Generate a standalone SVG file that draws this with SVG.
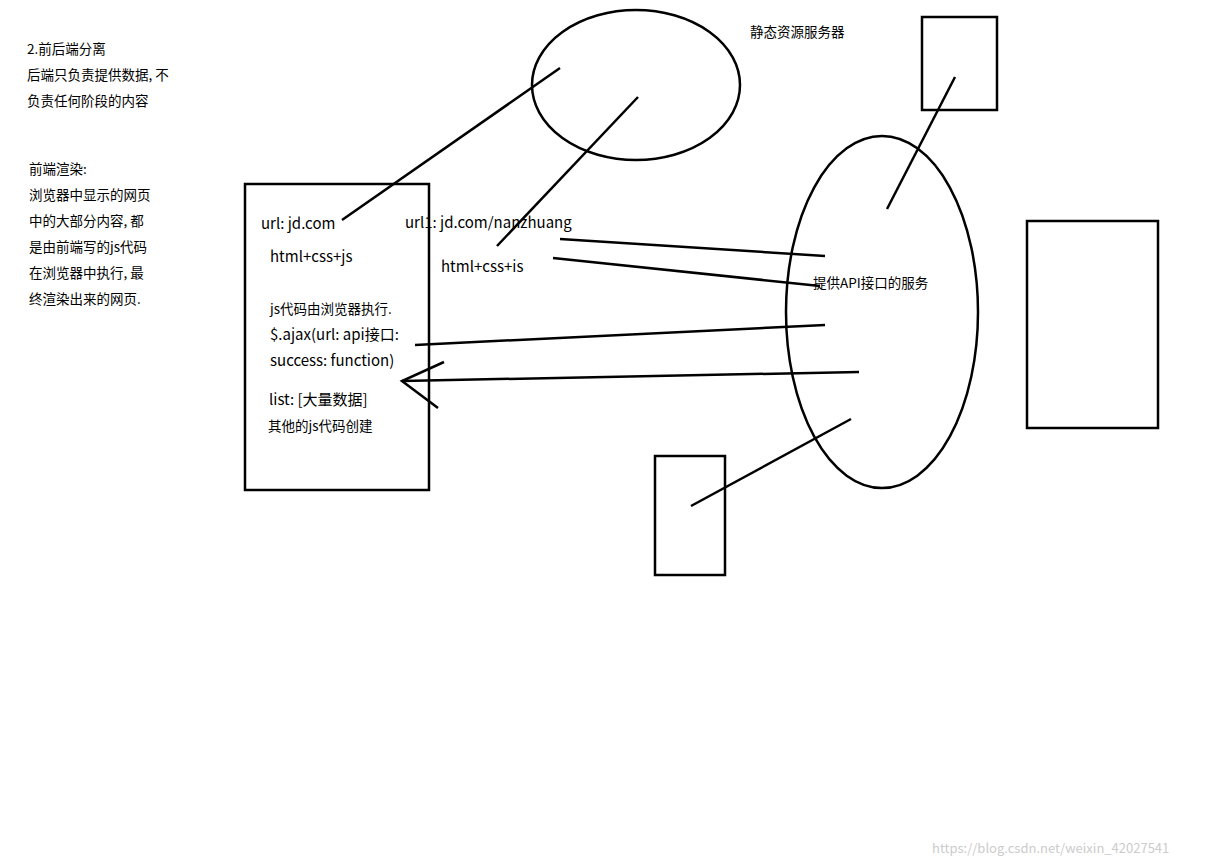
<svg xmlns="http://www.w3.org/2000/svg" width="1211" height="866" viewBox="0 0 1211 866">
<style>
.s{fill:none;stroke:#000;stroke-width:2.5}
text{font-family:"Noto Sans CJK SC","Liberation Sans",sans-serif;fill:#000}
.a{font-size:13.5px}
.b{font-size:15px}
</style>
<rect width="1211" height="866" fill="#fff"/>
<g id="notes">
<text class="a" x="27" y="54">2.前后端分离</text>
<text class="a" x="27" y="80">后端只负责提供数据, 不</text>
<text class="a" x="27" y="106">负责任何阶段的内容</text>
<text class="a" x="29" y="174">前端渲染:</text>
<text class="a" x="29" y="200">浏览器中显示的网页</text>
<text class="a" x="29" y="226">中的大部分内容, 都</text>
<text class="a" x="29" y="252">是由前端写的js代码</text>
<text class="a" x="29" y="278">在浏览器中执行, 最</text>
<text class="a" x="29" y="304">终渲染出来的网页.</text>
</g>
<g id="browser">
<rect class="s" x="245" y="184" width="184" height="306"/>
<text class="b" x="261" y="229">url: jd.com</text>
<text class="b" x="270" y="262">html+css+js</text>
<text class="a" x="270" y="314">js代码由浏览器执行.</text>
<text class="b" x="270" y="340">$.ajax(url: api接口:</text>
<text class="b" x="270" y="366">success: function)</text>
<text class="b" x="269" y="405">list: [大量数据]</text>
<text class="a" x="268" y="431">其他的js代码创建</text>
</g>
<g id="page2">
<text class="b" x="405" y="228">url1: jd.com/nanzhuang</text>
<text class="b" x="441" y="272">html+css+is</text>
</g>
<g id="static">
<ellipse class="s" cx="636" cy="85" rx="104" ry="75"/>
<text class="a" x="750" y="37">静态资源服务器</text>
</g>
<g id="api">
<ellipse class="s" cx="882" cy="312" rx="96" ry="176"/>
<text class="a" x="813" y="288">提供API接口的服务</text>
</g>
<g id="box-tr"><rect class="s" x="922" y="17" width="75" height="93"/></g>
<g id="box-r"><rect class="s" x="1027" y="221" width="131" height="207"/></g>
<g id="box-b"><rect class="s" x="655" y="456" width="70" height="119"/></g>
<g id="connectors" class="s">
<line class="s" x1="342" y1="220" x2="560" y2="68"/>
<line class="s" x1="497" y1="246" x2="638" y2="97"/>
<line class="s" x1="560" y1="239" x2="825" y2="256"/>
<line class="s" x1="553" y1="258" x2="820" y2="286"/>
<line class="s" x1="415" y1="345" x2="825" y2="325"/>
<line class="s" x1="402" y1="381" x2="859" y2="372"/>
<polyline class="s" points="444,362 402,381 438,408"/>
<line class="s" x1="887" y1="209" x2="955" y2="77"/>
<line class="s" x1="691" y1="506" x2="851" y2="419"/>
</g>
<text x="932" y="853" style="font-size:13px;fill:#ccc">https://blog.csdn.net/weixin_42027541</text>
</svg>
